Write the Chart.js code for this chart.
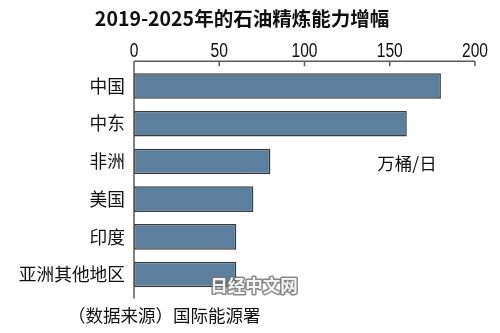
<!DOCTYPE html>
<html>
<head>
<meta charset="utf-8">
<script src="https://cdn.jsdelivr.net/npm/chart.js@4/dist/chart.umd.min.js"></script>
<style>
  html, body { margin: 0; padding: 0; background: #ffffff; }
  #wrap { width: 500px; height: 333px; }
</style>
</head>
<body>
<div id="wrap"><canvas id="c" width="500" height="333"></canvas></div>
<script>
// 2019-2025年的石油精炼能力增幅（万桶/日）
const regions = ['中国', '中东', '非洲', '美国', '印度', '亚洲其他地区'];
const capacityIncrease = [180, 160, 80, 70, 60, 60];
const xTicks = [0, 50, 100, 150, 200];

const titleText = '2019-2025年的石油精炼能力增幅';
const unitText = '万桶/日';
const sourceText = '（数据来源）国际能源署';
const brandText = '日经中文网';

const CJK = '"Noto Sans CJK SC", "Noto Sans", sans-serif';
const NUM = '"Liberation Sans", Arial, sans-serif';

// Axis frame: top line with inward ticks, narrow tick numbers, left baseline
const framePlugin = {
  id: 'frame',
  afterDatasetsDraw(chart) {
    const { ctx, chartArea, scales } = chart;
    const x = scales.x;
    const top = chartArea.top - 6;
    const bottom = chartArea.bottom + 5;
    ctx.save();
    ctx.strokeStyle = '#5a5a5a';
    ctx.lineWidth = 1.5;
    ctx.beginPath();
    ctx.moveTo(x.getPixelForValue(0), top);
    ctx.lineTo(x.getPixelForValue(200), top);
    ctx.moveTo(x.getPixelForValue(0), top);
    ctx.lineTo(x.getPixelForValue(0), bottom);
    xTicks.forEach(v => {
      const px = x.getPixelForValue(v);
      ctx.moveTo(px, top);
      ctx.lineTo(px, top + 5);
    });
    ctx.stroke();

    // tick numbers in a condensed face
    const squeeze = 0.8;
    ctx.fillStyle = '#111';
    ctx.font = '19.5px ' + NUM;
    ctx.textAlign = 'center';
    ctx.textBaseline = 'alphabetic';
    xTicks.forEach(v => {
      const px = x.getPixelForValue(v);
      ctx.save();
      ctx.translate(px, 57);
      ctx.scale(squeeze, 1);
      ctx.fillText(String(v), 0, 0);
      ctx.restore();
    });
    ctx.restore();
  }
};

// Title, unit, source note and brand mark
const textPlugin = {
  id: 'texts',
  afterDraw(chart) {
    const { ctx } = chart;
    ctx.save();
    ctx.fillStyle = '#111';
    ctx.textBaseline = 'middle';

    ctx.font = 'bold 19.5px ' + CJK;
    ctx.textAlign = 'center';
    ctx.fillText(titleText, 242, 19);

    ctx.font = '17.5px ' + CJK;
    ctx.fillText(unitText, 407, 163);

    ctx.textAlign = 'left';
    ctx.fillText(sourceText, 68, 315);

    ctx.font = 'bold 17.5px ' + CJK;
    ctx.textAlign = 'center';
    ctx.lineJoin = 'round';
    ctx.lineWidth = 3;
    ctx.strokeStyle = 'rgba(115,115,115,0.85)';
    ctx.strokeText(brandText, 254, 285);
    ctx.fillStyle = '#f4f4f4';
    ctx.fillText(brandText, 254, 285);
    ctx.restore();
  }
};

new Chart(document.getElementById('c'), {
  type: 'bar',
  data: {
    labels: regions,
    datasets: [{
      data: capacityIncrease,
      backgroundColor: '#5c7f9d',
      borderColor: '#3b3b3b',
      borderWidth: 1.5,
      borderSkipped: false,
      barPercentage: 0.68,
      categoryPercentage: 1.0
    }]
  },
  options: {
    indexAxis: 'y',
    responsive: false,
    animation: false,
    devicePixelRatio: 1,
    layout: { padding: { top: 0, left: 0, right: 25, bottom: 39.6 } },
    plugins: {
      legend: { display: false },
      tooltip: { enabled: false },
      title: { display: false }
    },
    scales: {
      x: {
        position: 'top',
        min: 0,
        max: 200,
        afterBuildTicks(scale) { scale.ticks = xTicks.map(v => ({ value: v })); },
        afterFit(scale) { scale.height = 67.2; },
        grid: { display: false, drawTicks: false },
        border: { display: false },
        ticks: { display: false }
      },
      y: {
        afterFit(scale) { scale.width = 134; },
        grid: { display: false, drawTicks: false },
        border: { display: false },
        ticks: {
          color: '#111',
          padding: 9,
          font: { family: CJK, size: 17.7 }
        }
      }
    }
  },
  plugins: [framePlugin, textPlugin]
});
</script>
</body>
</html>
